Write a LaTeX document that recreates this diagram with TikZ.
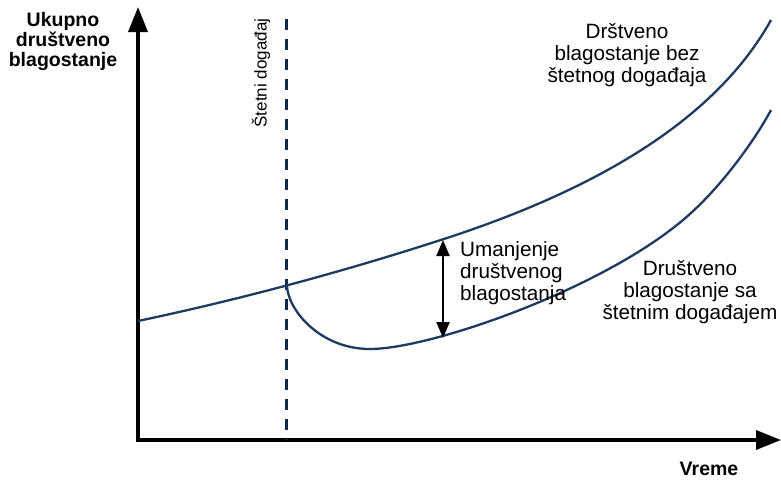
\documentclass[tikz,border=0pt]{standalone}
\usepackage{fontspec}
\setmainfont{Liberation Sans}
\usetikzlibrary{arrows.meta}
\definecolor{navy}{HTML}{1F3A60}
\definecolor{dashnavy}{HTML}{13294A}
\begin{document}
\begin{tikzpicture}[x=1pt,y=-1pt,
  axis/.style={line width=3.5pt, line join=miter,
    {Triangle[length=25pt,width=19pt]}-{Triangle[length=25pt,width=19pt]}},
  curve/.style={navy, line width=2.3pt},
  evline/.style={dashnavy, line width=3pt, dash pattern=on 11pt off 9pt},
  gaparrow/.style={black, line width=2.2pt,
    {Triangle[length=16pt,width=13pt]}-{Triangle[length=16pt,width=13pt]}},
  lbl/.style={font=\fontsize{20.7}{22}\selectfont, inner sep=0pt},
  blbl/.style={font=\bfseries\fontsize{19.5}{20}\selectfont, inner sep=0pt, align=center}]
\useasboundingbox (0,0) rectangle (781,480);
% axes
\coordinate (O) at (138,440);
\coordinate (ytip) at (138,7);
\coordinate (xtip) at (781,440);
\draw[axis] (ytip) -- (O) -- (xtip);
% event line
\coordinate (dtop) at (286,19);
\coordinate (dbot) at (286,440);
\draw[evline] (dtop) -- (dbot);
\node[lbl, font=\fontsize{17}{18}\selectfont, rotate=90] (ev) at (261,73) {Štetni događaj};
% curves
\coordinate (ustart) at (138,321);
\coordinate (umid) at (450,237);
\coordinate (uend) at (771,20);
\coordinate (E) at (287,286);
\coordinate (lmin) at (370,349);
\coordinate (lmid) at (683,220);
\coordinate (lend) at (771,110);
\draw[curve] (ustart) .. controls (242,299) and (346,271) .. (umid)
  .. controls (580,194) and (711,128) .. (uend);
\draw[curve] (E) .. controls (288,310) and (320,349) .. (lmin)
  .. controls (430,349) and (600,290) .. (lmid)
  .. controls (720,189) and (755,140) .. (lend);
% gap arrow
\coordinate (gu) at (443,240);
\coordinate (gl) at (443,338);
\draw[gaparrow] (gu) -- (gl);
% labels
\node[blbl] (ylab) at (63,41) {Ukupno\\društveno\\blagostanje};
\node[blbl] (xlab) at (709,469) {Vreme};
\node[lbl, align=center] (ulab) at (627,55) {Drštveno\\blagostanje bez\\štetnog događaja};
\node[lbl, align=left, anchor=west] (glab) at (460,273) {Umanjenje\\društvenog\\blagostanja};
\node[lbl, align=center] (llab) at (690,292) {Društveno\\blagostanje sa\\štetnim događajem};
\end{tikzpicture}
\end{document}
